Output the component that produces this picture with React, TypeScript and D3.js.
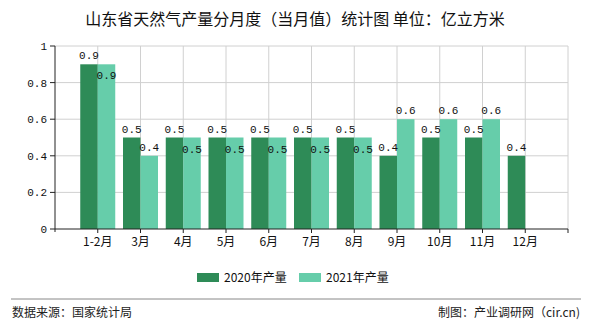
import React from "react";
import * as d3 from "d3";

const categories = ["1-2月", "3月", "4月", "5月", "6月", "7月", "8月", "9月", "10月", "11月", "12月"];
const series2020 = [0.9, 0.5, 0.5, 0.5, 0.5, 0.5, 0.5, 0.4, 0.5, 0.5, 0.4];
const series2021: (number | null)[] = [0.9, 0.4, 0.5, 0.5, 0.5, 0.5, 0.5, 0.6, 0.6, 0.6, null];
const yTicks = [0, 0.2, 0.4, 0.6, 0.8, 1];
const legendLabels = ["2020年产量", "2021年产量"];

const W = 590, H = 330;
const left = 55, right = 568, top = 46, bottom = 229;
const dark = "#2E8B57", light = "#66CDAA";
const cjk = "'Noto Sans CJK SC', 'Noto Sans', sans-serif";
const mono = "'Liberation Mono', 'DejaVu Sans Mono', monospace";

export default function App() {
  const x = d3.scaleLinear().domain([0, categories.length + 1]).range([left, right]);
  const y = d3.scaleLinear().domain([0, 1]).range([bottom, top]);
  const bw = 17.5;
  const gridX = d3.range(1, categories.length + 2);

  return (
    <svg width={W} height={H} style={{ position: "absolute", left: 0, top: 0, background: "#fff" }}>
      <text x={W / 2} y={25} textAnchor="middle" fontFamily={cjk} fontSize={16} fill="#111">
        山东省天然气产量分月度（当月值）统计图 单位：亿立方米
      </text>
      {/* grid */}
      {yTicks.filter((t) => t > 0).map((t) => (
        <line key={"h" + t} x1={left} x2={right} y1={y(t)} y2={y(t)} stroke="#d0d0d0" strokeWidth={1} />
      ))}
      {gridX.map((i) => (
        <line key={"v" + i} x1={x(i)} x2={x(i)} y1={top} y2={bottom} stroke="#d0d0d0" strokeWidth={1} />
      ))}
      {/* bars */}
      {categories.map((c, i) => {
        const cx = x(i + 1);
        const v1 = series2020[i];
        const v2 = series2021[i];
        const y1 = y(v1) - 9;
        let y2 = v2 != null ? y(v2) - 9 : 0;
        if (v2 != null && Math.abs(y2 - y1) < 14) y2 = y1 + 20;
        return (
          <g key={c}>
            <rect x={cx - bw} y={y(v1)} width={bw} height={bottom - y(v1)} fill={dark} />
            {v2 != null && <rect x={cx} y={y(v2)} width={bw} height={bottom - y(v2)} fill={light} />}
            <text x={cx - bw / 2} y={y1 + 4} textAnchor="middle" fontFamily={mono} fontSize={11} fill="#111">
              {v1}
            </text>
            {v2 != null && (
              <text x={cx + bw / 2} y={y2 + 4} textAnchor="middle" fontFamily={mono} fontSize={11} fill="#111">
                {v2}
              </text>
            )}
          </g>
        );
      })}
      {/* axes */}
      <line x1={left} x2={left} y1={top} y2={bottom + 3} stroke="#222" strokeWidth={1} />
      <line x1={left} x2={right} y1={bottom} y2={bottom} stroke="#222" strokeWidth={1} />
      {yTicks.map((t) => (
        <g key={"yt" + t}>
          <line x1={left - 5} x2={left} y1={y(t)} y2={y(t)} stroke="#222" />
          <text x={left - 8} y={y(t) + 4} textAnchor="end" fontFamily={mono} fontSize={11} fill="#111">
            {t}
          </text>
        </g>
      ))}
      {gridX.map((i) => (
        <line key={"xt" + i} x1={x(i)} x2={x(i)} y1={bottom} y2={bottom + 4} stroke="#222" />
      ))}
      {categories.map((c, i) => (
        <text key={"xl" + c} x={x(i + 1)} y={246} textAnchor="middle" fontFamily={cjk} fontSize={12} fill="#111">
          {c}
        </text>
      ))}
      {/* legend */}
      <rect x={197} y={273} width={22} height={9} fill={dark} />
      <text x={224} y={282} fontFamily={cjk} fontSize={12} fill="#111">{legendLabels[0]}</text>
      <rect x={299} y={273} width={22} height={9} fill={light} />
      <text x={326} y={282} fontFamily={cjk} fontSize={12} fill="#111">{legendLabels[1]}</text>
      {/* footer */}
      <line x1={11} x2={581} y1={299} y2={299} stroke="#888" strokeWidth={1} />
      <text x={12} y={317} fontFamily={cjk} fontSize={12} fill="#222">数据来源：国家统计局</text>
      <text x={580} y={317} textAnchor="end" fontFamily={cjk} fontSize={12} fill="#222">制图：产业调研网（cir.cn)</text>
    </svg>
  );
}
